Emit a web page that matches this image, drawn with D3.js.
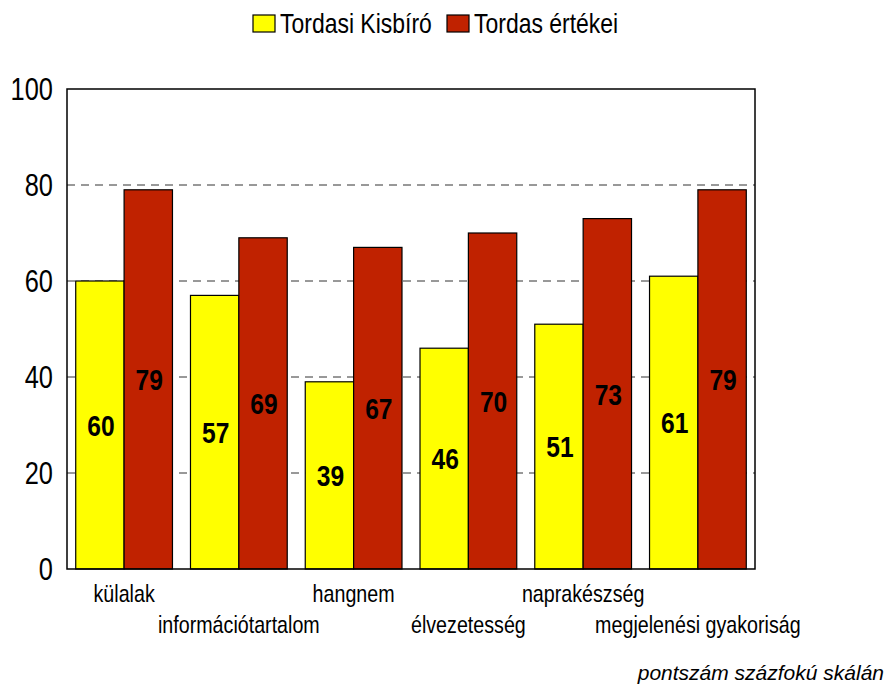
<!DOCTYPE html>
<html>
<head>
<meta charset="utf-8">
<script src="https://cdn.jsdelivr.net/npm/d3@7"></script>
<style>
  body { margin: 0; background: #fff; }
  svg text { font-family: "Liberation Sans", Arial, sans-serif; }
</style>
</head>
<body>
<div id="content"></div>
<script>
(function(){

  // data
  var categories = ["külalak", "információtartalom", "hangnem", "élvezetesség", "naprakészség", "megjelenési gyakoriság"];
  var seriesNames = ["Tordasi Kisbíró", "Tordas értékei"];
  var kisbiro = [60, 57, 39, 46, 51, 61];
  var ertekei = [79, 69, 67, 70, 73, 79];
  var yTicks = [0, 20, 40, 60, 80, 100];
  var colors = ["#FFFF00", "#C02200"];

  var width = 887, height = 684;
  var margin = {top: 89, right: 132, bottom: 115, left: 67};
  var w = width - margin.left - margin.right,
      h = height - margin.top - margin.bottom;
  var narrow = 0.82; // squeeze text like the condensed original font

  function place(x, y){ return "translate(" + x + "," + y + ") scale(" + narrow + ",1)"; }

  var svg = d3.select("#content").append("svg")
      .attr("width", width)
      .attr("height", height);

  var g = svg.append("g")
      .attr("transform", "translate(" + margin.left + "," + margin.top + ")");

  var x0 = d3.scaleBand().domain(categories).range([0, w])
      .paddingInner(0.157).paddingOuter(0.076);
  var x1 = d3.scaleBand().domain([0, 1]).range([0, x0.bandwidth()]);
  var y = d3.scaleLinear().domain([0, 100]).range([h, 0]);

  // dashed gridlines
  g.selectAll(".grid")
    .data(yTicks.filter(function(d){ return d > 0 && d < 100; }))
    .enter().append("line")
      .attr("x1", 0).attr("x2", w)
      .attr("y1", function(d){ return y(d); })
      .attr("y2", function(d){ return y(d); })
      .style("stroke", "#333")
      .style("stroke-width", 1)
      .style("stroke-dasharray", "8,6");

  // bars
  var rows = categories.map(function(c, i){ return {cat: c, vals: [kisbiro[i], ertekei[i]]}; });

  var grp = g.selectAll(".grp")
    .data(rows)
    .enter().append("g")
      .attr("transform", function(d){ return "translate(" + x0(d.cat) + ",0)"; });

  grp.selectAll("rect")
    .data(function(d){ return d.vals; })
    .enter().append("rect")
      .attr("x", function(d, i){ return x1(i); })
      .attr("y", function(d){ return y(d); })
      .attr("width", x1.bandwidth())
      .attr("height", function(d){ return h - y(d); })
      .style("fill", function(d, i){ return colors[i]; })
      .style("stroke", "#000")
      .style("stroke-width", 1.2);

  grp.selectAll(".val")
    .data(function(d){ return d.vals; })
    .enter().append("text")
      .attr("transform", function(d, i){ return place(x1(i) + x1.bandwidth() / 2 + 1, (y(d) + h) / 2); })
      .attr("dy", "0.36em")
      .attr("text-anchor", "middle")
      .style("font-size", "30px")
      .style("font-weight", "bold")
      .text(function(d){ return d; });

  // frame
  g.append("rect")
    .attr("width", w).attr("height", h)
    .style("fill", "none")
    .style("stroke", "#000")
    .style("stroke-width", 1.5);

  // y axis labels
  g.selectAll(".ytick")
    .data(yTicks)
    .enter().append("text")
      .attr("transform", function(d){ return place(-14, y(d)); })
      .attr("dy", "0.36em")
      .attr("text-anchor", "end")
      .style("font-size", "31px")
      .text(function(d){ return d; });

  // category labels, staggered
  g.selectAll(".cat")
    .data(categories)
    .enter().append("text")
      .attr("transform", function(d, i){
        return place(x0(d) + x0.bandwidth() / 2, h + (i % 2 === 0 ? 33 : 64));
      })
      .attr("text-anchor", "middle")
      .style("font-size", "24px")
      .text(function(d){ return d; });

  // legend
  var legend = svg.append("g");
  var legX = [253, 447];
  seriesNames.forEach(function(s, i){
    legend.append("rect")
      .attr("x", legX[i]).attr("y", 15)
      .attr("width", 22).attr("height", 17)
      .style("fill", colors[i])
      .style("stroke", "#000")
      .style("stroke-width", 1.2);
    legend.append("text")
      .attr("transform", place(legX[i] + 27, 33))
      .style("font-size", "28px")
      .text(s);
  });

  // note
  svg.append("text")
    .attr("x", 884).attr("y", 680)
    .attr("text-anchor", "end")
    .style("font-style", "italic")
    .style("font-size", "21px")
    .text("pontszám százfokú skálán");

})();
</script>
</body>
</html>
